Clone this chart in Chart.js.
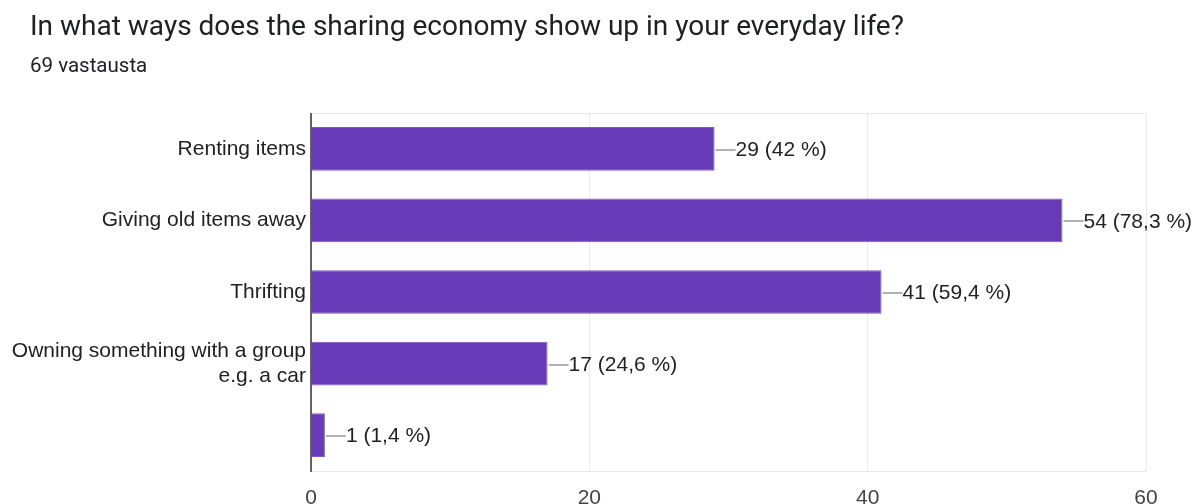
<!DOCTYPE html>
<html>
<head>
<meta charset="utf-8">
<script src="https://cdn.jsdelivr.net/npm/chart.js@4.4.1/dist/chart.umd.min.js"></script>
<style>
  html, body { margin: 0; padding: 0; background: #fff; }
  #wrap { position: relative; width: 1197px; height: 504px; overflow: hidden; }
  #title { position: absolute; left: 30px; top: 9px; font-family: Roboto, sans-serif; font-size: 28px; line-height: 34px; color: #202124; white-space: nowrap; }
  #sub { position: absolute; left: 30px; top: 52px; font-family: Roboto, sans-serif; font-size: 20.5px; line-height: 26px; color: #202124; white-space: nowrap; }
  canvas { position: absolute; left: 0; top: 0; }
</style>
</head>
<body>
<div id="wrap">
  <canvas id="c" width="1197" height="504"></canvas>
  <div id="title">In what ways does the sharing economy show up in your everyday life?</div>
  <div id="sub">69 vastausta</div>
</div>
<script>
const categories = [
  'Renting items',
  'Giving old items away',
  'Thrifting',
  ['Owning something with a group', 'e.g. a car'],
  ''
];
const counts = [29, 54, 41, 17, 1];
const percentLabels = ['42 %', '78,3 %', '59,4 %', '24,6 %', '1,4 %'];
const xTicks = [0, 20, 40, 60];

const AXIS_LEFT = 311;
const LABEL_FONT = '"Liberation Sans", Arial, sans-serif';

// Frame lines at the top and bottom of the plot area, dark axis line at the left
const framePlugin = {
  id: 'frame',
  beforeDatasetsDraw(chart) {
    const { ctx, chartArea: a } = chart;
    ctx.save();
    ctx.strokeStyle = '#e6e6e6';
    ctx.lineWidth = 1;
    ctx.beginPath();
    ctx.moveTo(a.left, a.top + 0.5);
    ctx.lineTo(a.right, a.top + 0.5);
    ctx.moveTo(a.left, a.bottom + 0.5);
    ctx.lineTo(a.right, a.bottom + 0.5);
    ctx.stroke();
    ctx.restore();
  },
  afterDatasetsDraw(chart) {
    const { ctx, chartArea: a } = chart;
    ctx.save();
    ctx.strokeStyle = '#333';
    ctx.lineWidth = 1.5;
    ctx.beginPath();
    ctx.moveTo(a.left, a.top);
    ctx.lineTo(a.left, a.bottom + 1);
    ctx.stroke();
    ctx.restore();
  }
};

// Leader line plus "count (percent)" at the end of each bar
const valueLabelPlugin = {
  id: 'valueLabels',
  afterDatasetsDraw(chart) {
    const { ctx } = chart;
    const meta = chart.getDatasetMeta(0);
    ctx.save();
    ctx.font = '21px ' + LABEL_FONT;
    ctx.textBaseline = 'middle';
    ctx.textAlign = 'left';
    meta.data.forEach((bar, i) => {
      const x = bar.x, y = bar.y;
      ctx.strokeStyle = '#999';
      ctx.lineWidth = 1.5;
      ctx.beginPath();
      ctx.moveTo(x + 1, Math.round(y) + 1);
      ctx.lineTo(x + 21, Math.round(y) + 1);
      ctx.stroke();
      ctx.fillStyle = '#222';
      ctx.fillText(counts[i] + ' (' + percentLabels[i] + ')', x + 21, y + 1.5);
    });
    ctx.restore();
  }
};

new Chart(document.getElementById('c'), {
  type: 'bar',
  data: {
    labels: categories,
    datasets: [{
      data: counts,
      backgroundColor: '#673ab7',
      borderColor: '#7e57c2',
      borderWidth: { top: 1, bottom: 1, left: 0, right: 1 },
      categoryPercentage: 1,
      barPercentage: 0.61
    }]
  },
  options: {
    indexAxis: 'y',
    responsive: false,
    animation: false,
    layout: { padding: { top: 113, right: 51, left: 0, bottom: 0 } },
    plugins: { legend: { display: false }, tooltip: { enabled: false } },
    scales: {
      x: {
        min: 0,
        max: 60,
        afterBuildTicks(scale) { scale.ticks = xTicks.map(v => ({ value: v })); },
        afterFit(scale) { scale.height = 33; },
        grid: { color: '#ebebeb', drawTicks: false },
        border: { display: false },
        ticks: {
          padding: 15,
          color: '#444',
          font: { family: LABEL_FONT, size: 21 }
        }
      },
      y: {
        afterFit(scale) { scale.width = AXIS_LEFT; },
        grid: { display: false, drawTicks: false },
        border: { display: false },
        ticks: {
          padding: 5,
          color: '#222',
          font: { family: LABEL_FONT, size: 21, lineHeight: 1.2 }
        }
      }
    }
  },
  plugins: [framePlugin, valueLabelPlugin]
});
</script>
</body>
</html>
